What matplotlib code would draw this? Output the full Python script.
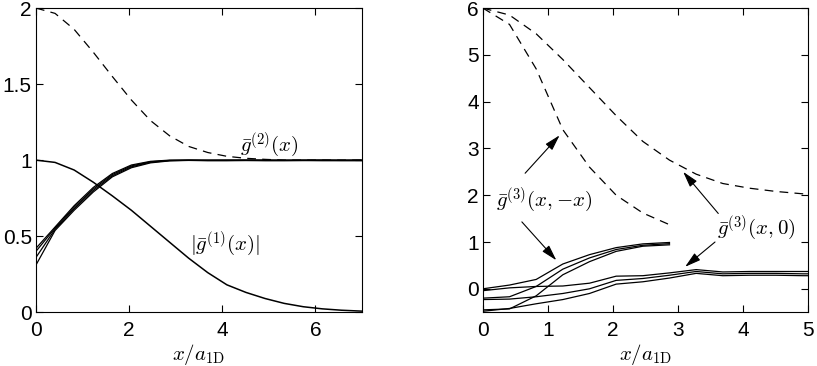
import matplotlib
matplotlib.use("Agg")
import matplotlib.pyplot as plt

plt.rcParams['font.family'] = ['Liberation Sans', 'DejaVu Sans']
plt.rcParams['mathtext.fontset'] = 'cm'

# left panel data
x_left = [0, 0.41, 0.82, 1.23, 1.64, 2.05, 2.46, 2.87, 3.28, 3.69, 4.1, 4.51,
          4.92, 5.33, 5.74, 6.15, 6.56, 7.0]
g1 = [1.0, 0.985, 0.935, 0.855, 0.765, 0.67, 0.565, 0.46, 0.355, 0.26, 0.18,
      0.13, 0.09, 0.058, 0.036, 0.022, 0.013, 0.007]
g2_exact = [2.0, 1.965, 1.86, 1.71, 1.55, 1.395, 1.26, 1.16, 1.09, 1.05, 1.025,
            1.012, 1.005, 1.0, 1.0, 1.0, 1.0, 1.0]
g2_runs = [
    [0.42, 0.56, 0.70, 0.82, 0.912, 0.968, 0.992, 1.0, 1.0, 1.0, 1.0, 1.0,
     1.0, 1.0, 1.0, 1.0, 1.0, 1.0],
    [0.40, 0.553, 0.69, 0.81, 0.905, 0.962, 0.989, 0.998, 1.0, 0.999, 1.0,
     1.0, 1.0, 0.999, 1.0, 1.0, 0.999, 1.0],
    [0.36, 0.545, 0.68, 0.80, 0.897, 0.956, 0.986, 0.997, 0.999, 0.998, 0.998,
     0.999, 0.998, 0.998, 0.998, 0.999, 0.998, 0.998],
    [0.31, 0.537, 0.67, 0.79, 0.89, 0.95, 0.982, 0.995, 0.998, 0.996, 0.996,
     0.997, 0.996, 0.996, 0.997, 0.996, 0.996, 0.996],
]

# right panel data
x_right = [0, 0.41, 0.82, 1.23, 1.64, 2.05, 2.46, 2.87, 3.28, 3.69, 4.1, 4.51,
           4.92, 5.0]
g3_x0_exact = [6.0, 5.85, 5.45, 4.9, 4.3, 3.7, 3.15, 2.75, 2.45, 2.25, 2.15,
               2.08, 2.03, 2.02]
g3_xmx_exact = [6.0, 5.65, 4.7, 3.4, 2.6, 2.0, 1.62, 1.37]
g3_xmx_runs = [
    [0.0, 0.08, 0.2, 0.53, 0.73, 0.88, 0.96, 0.99],
    [-0.2, -0.17, 0.05, 0.42, 0.66, 0.84, 0.93, 0.965],
    [-0.45, -0.43, -0.15, 0.3, 0.58, 0.8, 0.91, 0.94],
]
g3_x0_runs = [
    [-0.04, 0.02, 0.05, 0.06, 0.12, 0.27, 0.28, 0.34, 0.41, 0.36, 0.37, 0.37,
     0.37, 0.37],
    [-0.23, -0.22, -0.17, -0.1, 0.0, 0.18, 0.22, 0.29, 0.37, 0.32, 0.33, 0.33,
     0.32, 0.32],
    [-0.48, -0.42, -0.32, -0.23, -0.1, 0.1, 0.15, 0.23, 0.33, 0.28, 0.29,
     0.29, 0.28, 0.28],
]

lw = 0.9
dash = (7, 5)

fig = plt.figure(figsize=(8.17, 3.66), dpi=100)
ax1 = fig.add_axes([0.044, 0.147, 0.399, 0.831])
ax2 = fig.add_axes([0.591, 0.147, 0.398, 0.831])

ax1.plot(x_left, g2_exact, 'k', lw=lw, dashes=dash)
for run in g2_runs:
    ax1.plot(x_left, run, 'k', lw=lw)
ax1.plot(x_left, g1, 'k', lw=1.1)
ax1.set_xlim(0, 7)
ax1.set_ylim(0, 2)
ax1.set_xticks([0, 2, 4, 6])
ax1.set_yticks([0, 0.5, 1, 1.5, 2])
ax1.set_yticklabels(['0', '0.5', '1', '1.5', '2'])
ax1.text(4.38, 1.1, r'$\bar{g}^{(2)}(x)$', fontsize=15, va='center')
ax1.text(3.3, 0.45, r'$|\bar{g}^{(1)}(x)|$', fontsize=15, va='center')

ax2.plot(x_right, g3_x0_exact, 'k', lw=lw, dashes=dash)
ax2.plot(x_right[:len(g3_xmx_exact)], g3_xmx_exact, 'k', lw=lw, dashes=dash)
for run in g3_xmx_runs:
    ax2.plot(x_right[:len(run)], run, 'k', lw=lw)
for run in g3_x0_runs:
    ax2.plot(x_right, run, 'k', lw=lw)
ax2.set_xlim(0, 5)
ax2.set_ylim(-0.5, 6)
ax2.set_xticks([0, 1, 2, 3, 4, 5])
ax2.set_yticks([0, 1, 2, 3, 4, 5, 6])

arrow = dict(arrowstyle='-|>,head_length=0.6,head_width=0.17', color='k',
             lw=0.8, mutation_scale=16, shrinkA=0, shrinkB=0)
ax2.text(0.2, 1.9, r'$\bar{g}^{(3)}(x,{-}x)$', fontsize=15, va='center')
ax2.annotate('', xy=(1.18, 3.28), xytext=(0.65, 2.47), arrowprops=arrow)
ax2.annotate('', xy=(1.13, 0.61), xytext=(0.6, 1.43), arrowprops=arrow)
ax2.text(3.6, 1.3, r'$\bar{g}^{(3)}(x,0)$', fontsize=15, va='center')
ax2.annotate('', xy=(3.08, 2.5), xytext=(3.62, 1.61), arrowprops=arrow)
ax2.annotate('', xy=(3.11, 0.47), xytext=(3.57, 1.0), arrowprops=arrow)

for ax in (ax1, ax2):
    ax.set_xlabel(r'$x/a_{1\mathrm{D}}$', fontsize=15, labelpad=2)
    ax.tick_params(direction='in', top=True, right=True, length=5,
                   width=0.8, labelsize=15)
    ax.tick_params(axis='x', pad=6)
    ax.tick_params(axis='y', pad=3)
    for s in ax.spines.values():
        s.set_linewidth(0.8)

fig.savefig('out.png', dpi=100)
